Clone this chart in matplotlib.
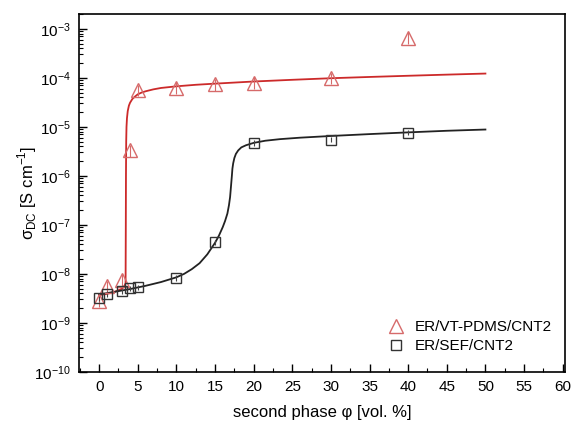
import numpy as np
import matplotlib
matplotlib.use("Agg")
import matplotlib.pyplot as plt
from matplotlib.ticker import LogLocator, MultipleLocator, NullFormatter

plt.rcParams['font.family'] = ['Liberation Sans', 'DejaVu Sans']

# Measured data
phi_vt = [0, 1, 3, 4, 5, 10, 15, 20, 30, 40]
sig_vt = [2.8e-9, 5.6e-9, 7.5e-9, 3.3e-6, 5.6e-5, 6.2e-5, 7.3e-5, 7.8e-5, 9.8e-5, 6.5e-4]

phi_sef = [0, 1, 3, 4, 5, 10, 15, 20, 30, 40]
sig_sef = [3.2e-9, 3.9e-9, 4.4e-9, 5.1e-9, 5.4e-9, 8.3e-9, 4.4e-8, 4.7e-6, 5.5e-6, 7.6e-6]

# Fit curves
fit_vt_x = [0, 1, 2, 3, 3.3, 3.42, 3.45, 3.47, 3.5, 3.54, 3.6, 3.7, 3.85, 4.0, 4.3, 4.6, 5.0, 5.5, 6, 7, 8, 10, 12.5, 15, 20, 25, 30, 35, 40, 45, 50]
fit_vt_y = [3.7e-9, 3.9e-9, 4.3e-9, 5.0e-9, 5.8e-9, 6.5e-9, 1e-7, 1e-6, 5e-6, 1.0e-5, 1.5e-5, 2.1e-5, 2.7e-5, 3.1e-5, 3.7e-5, 4.1e-5, 4.6e-5, 5.0e-5, 5.3e-5, 5.8e-5, 6.2e-5, 6.7e-5, 7.2e-5, 7.6e-5, 8.4e-5, 9.1e-5, 9.8e-5, 1.04e-4, 1.10e-4, 1.16e-4, 1.22e-4]

fit_sef_x = [0, 2, 4, 6, 8, 10, 11, 12, 13, 14, 15, 15.5, 16, 16.3, 16.6, 16.8, 16.95, 17.08, 17.18, 17.25, 17.35, 17.5, 17.7, 18.0, 18.4, 19, 20, 21.5, 23.4, 26, 30, 35, 40, 45, 50]
fit_sef_y = [3.8e-9, 4.3e-9, 4.9e-9, 5.7e-9, 6.8e-9, 8.5e-9, 1.0e-8, 1.25e-8, 1.65e-8, 2.5e-8, 4.3e-8, 6.0e-8, 9.0e-8, 1.2e-7, 1.7e-7, 2.5e-7, 3.7e-7, 6.5e-7, 1.0e-6, 1.4e-6, 1.8e-6, 2.3e-6, 2.8e-6, 3.3e-6, 3.8e-6, 4.2e-6, 4.7e-6, 5.2e-6, 5.6e-6, 6.0e-6, 6.5e-6, 7.1e-6, 7.7e-6, 8.3e-6, 8.8e-6]

xticks = [0, 5, 10, 15, 20, 25, 30, 35, 40, 45, 50, 55, 60]

red = '#cc2a2a'
red_m = '#d66a6a'

fig = plt.figure(figsize=(5.73, 4.25), dpi=100)
ax = fig.add_axes([0.138, 0.125, 0.848, 0.842])

ax.plot(fit_vt_x, fit_vt_y, color=red, lw=1.3, zorder=2)
ax.plot(fit_sef_x, fit_sef_y, color='#222222', lw=1.3, zorder=2)

sv = np.array(sig_vt)
ss = np.array(sig_sef)
ax.errorbar(phi_vt, sv, yerr=[sv * 0.25, sv * 0.3], fmt='none', ecolor=red_m, elinewidth=0.8, zorder=3)
ax.errorbar(phi_sef, ss, yerr=[ss * 0.12, ss * 0.12], fmt='none', ecolor='#444444', elinewidth=0.8, zorder=3)

ax.plot(phi_vt, sig_vt, linestyle='none', marker='^', markersize=10, markerfacecolor='none',
        markeredgecolor=red_m, markeredgewidth=1.0, label='ER/VT-PDMS/CNT2', zorder=4)
ax.plot(phi_sef, sig_sef, linestyle='none', marker='s', markersize=7.5, markerfacecolor='none',
        markeredgecolor='#333333', markeredgewidth=1.0, label='ER/SEF/CNT2', zorder=4)

ax.set_yscale('log')
ax.set_ylim(1e-10, 2.0e-3)
ax.set_xlim(-2.6, 60.3)
ax.set_xticks(xticks)
ax.xaxis.set_minor_locator(MultipleLocator(2.5))
ax.yaxis.set_major_locator(LogLocator(base=10, numticks=20))
ax.yaxis.set_minor_locator(LogLocator(base=10, subs=np.arange(2, 10), numticks=100))
ax.yaxis.set_minor_formatter(NullFormatter())

ax.tick_params(which='major', direction='in', length=6, width=1.0, labelsize=11, top=False, right=False, pad=6)
ax.tick_params(which='minor', direction='in', length=3, width=0.8, top=False, right=False)

for s in ax.spines.values():
    s.set_linewidth(1.2)

ax.set_xlabel('second phase φ [vol. %]', fontsize=12, labelpad=8)
ax.set_ylabel(r'σ$_{\mathregular{DC}}$ [S cm$^{\mathregular{-1}}$]', fontsize=12)
ax.yaxis.set_label_coords(-0.082, 0.5)

leg = ax.legend(loc='lower right', frameon=False, fontsize=11, handletextpad=0.6,
                borderaxespad=0.0, bbox_to_anchor=(0.985, 0.035), handlelength=1.2,
                labelspacing=0.35)

fig.savefig('out.png', dpi=100)
